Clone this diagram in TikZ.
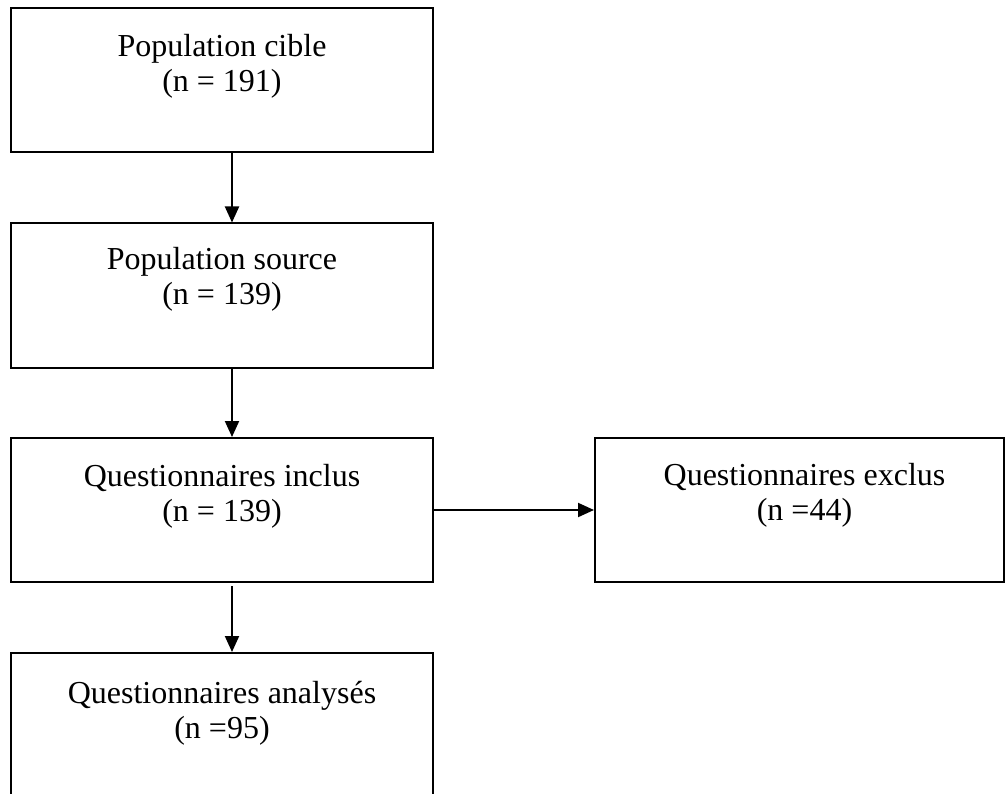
\documentclass[tikz,border=0pt]{standalone}
\usepackage{fontspec}
\setmainfont{Liberation Serif}
\usetikzlibrary{calc,arrows.meta}
\tikzset{
  box/.style={
    draw=black,
    line width=2pt,
    minimum width=422pt,
    minimum height=144pt,
    inner sep=0pt
  },
  box-side/.style={box, minimum width=409pt},
  lbl/.style={align=center, inner sep=0pt, font=\fontsize{32}{35}\selectfont},
  flow/.style={line width=2pt, -{Triangle[length=16pt,width=14pt]}}
}

\begin{document}
\begin{tikzpicture}[x=1pt,y=-1pt]
  \useasboundingbox (0,0) rectangle (1008,794);
  % Boxes
  \node[box] (cible) at (222,80.5) {};
  \node[box] (source) at (222,295.5) {};
  \node[box] (inclus) at (222,510) {};
  \node[box] (analyses) at (222,725) {};
  \node[box-side] (exclus) at (799.5,510) {};
  % Texts (base = last line)
  \node[lbl, anchor=base] (cible-txt) at ($(cible.north)+(0,84)$) {Population cible\\(n = 191)};
  \node[lbl, anchor=base] (source-txt) at ($(source.north)+(0,82)$) {Population source\\(n = 139)};
  \node[lbl, anchor=base] (inclus-txt) at ($(inclus.north)+(0,84)$) {Questionnaires inclus\\(n = 139)};
  \node[lbl, anchor=base] (analyses-txt) at ($(analyses.north)+(0,86)$) {Questionnaires analysés\\(n =95)};
  \node[lbl, anchor=base] (exclus-txt) at ($(exclus.north)+(5,83)$) {Questionnaires exclus\\(n =44)};
  % Arrows
  \coordinate (spine) at (232,0);
  \draw[flow] (cible.south -| spine) -- (source.north -| spine);
  \draw[flow] (source.south -| spine) -- (inclus.north -| spine);
  \draw[flow, shorten <=3pt] (inclus.south -| spine) -- (analyses.north -| spine);
  \draw[flow] (inclus.east) -- (exclus.west);
\end{tikzpicture}
\end{document}
